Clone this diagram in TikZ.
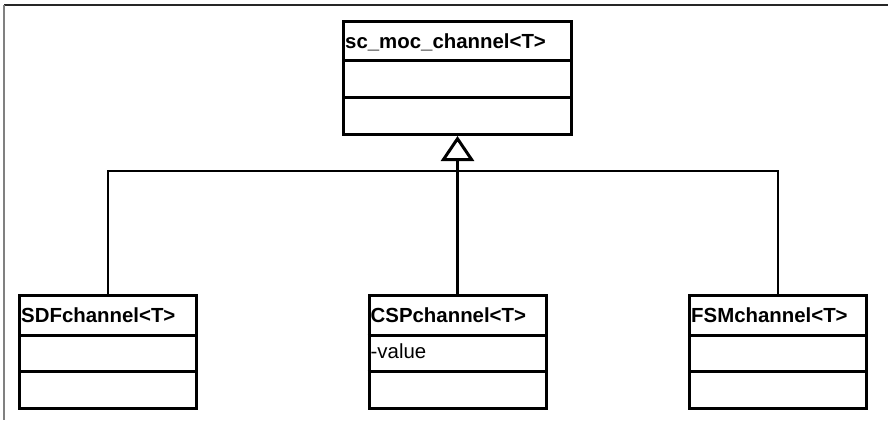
\documentclass[tikz,border=0pt]{standalone}
\usepackage{fontspec}
\setmainfont{Liberation Sans}
\usepackage{tikz}
\usetikzlibrary{arrows.meta,positioning}
\tikzset{
  classbox/.style={draw, line width=3pt, rectangle, anchor=north west, minimum height=113pt, inner sep=0pt},
  classtext/.style={anchor=base west, inner sep=0pt, font=\fontsize{20.4}{24}\selectfont},
  classsep/.style={line width=3pt},
  generalize/.style={line width=2.8pt},
  inherit/.style={line width=3pt, -{Triangle[open, length=25pt, width=33pt]}}
}
% class box: name, x, y, width, title, attribute
\newcommand{\UmlClass}[6]{%
  \node[classbox, minimum width=#4] (#1) at (#2,#3) {};
  \node[classtext, font=\fontsize{20.4}{24}\selectfont\bfseries] (#1-name) at ([xshift=3pt,yshift=-28.5pt]#1.north west) {#5};
  \node[classtext] (#1-attr) at ([xshift=3pt,yshift=-64pt]#1.north west) {#6};
  \draw[classsep] ([yshift=-41pt]#1.north west) -- ([yshift=-41pt]#1.north east);
  \draw[classsep] ([yshift=-77pt]#1.north west) -- ([yshift=-77pt]#1.north east);
}
\begin{document}
\begin{tikzpicture}[x=1pt,y=-1pt]
%
\useasboundingbox (0,0) rectangle (888,420);
%
\draw[line width=2.2pt, black!85] (4,5) -- (888,5);
\draw[line width=2.2pt, gray] (4,5) -- (4,420);
%
\UmlClass{moc}{342}{20}{228pt}{sc\_moc\_channel<T>}{}
\UmlClass{sdf}{18}{294}{177pt}{SDFchannel<T>}{}
\UmlClass{csp}{367.5}{294}{177pt}{CSPchannel<T>}{-value}
\UmlClass{fsm}{688}{294}{177pt}{FSMchannel<T>}{}
%
\coordinate (bus) at (456,171);
\draw[generalize] (sdf.north) |- (bus) -| (fsm.north);
\draw[inherit] (csp.north) -- (moc.south);
%
\end{tikzpicture}
\end{document}
